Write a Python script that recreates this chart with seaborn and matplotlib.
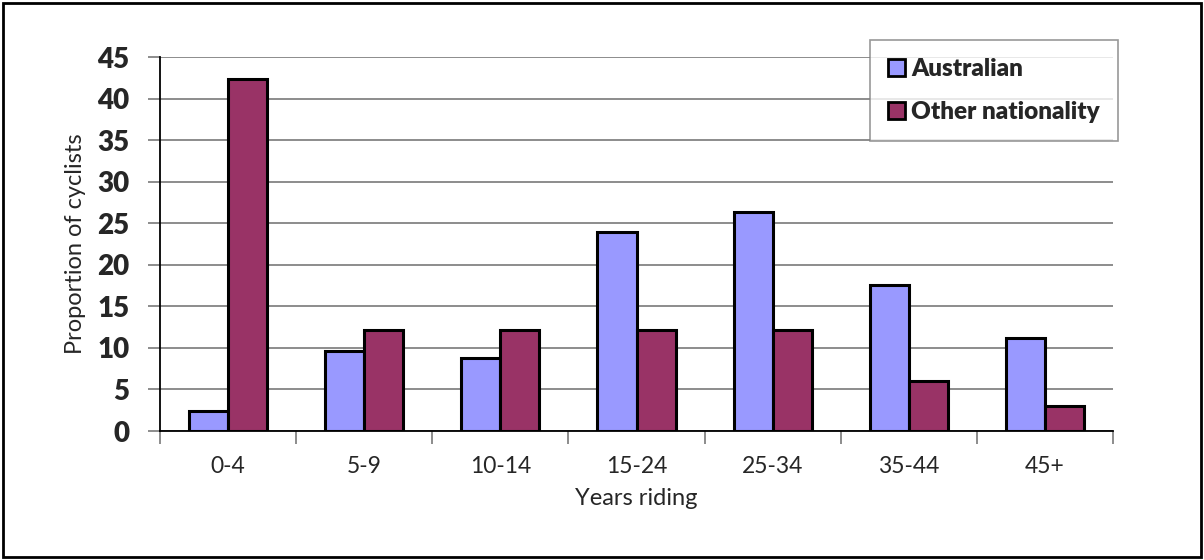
import matplotlib
matplotlib.use("Agg")
import matplotlib.pyplot as plt
import seaborn as sns
import pandas as pd
from matplotlib.patches import Rectangle

categories = ["0-4", "5-9", "10-14", "15-24", "25-34", "35-44", "45+"]
australian = [2.4, 9.6, 8.8, 24.0, 26.4, 17.6, 11.2]
other_nationality = [42.4, 12.1, 12.1, 12.1, 12.1, 6.0, 3.0]
series_names = ["Australian", "Other nationality"]
colors = ["#9999FF", "#993366"]

df = pd.DataFrame({
    "Years riding": categories * 2,
    "value": australian + other_nationality,
    "group": [series_names[0]] * len(categories) + [series_names[1]] * len(categories),
})

sns.set_style("white")
plt.rcParams["font.family"] = ["Lato", "DejaVu Sans"]

W, H = 1204, 560
fig = plt.figure(figsize=(W / 100, H / 100), dpi=100)
ax = fig.add_axes([160 / W, 1 - 431 / H, (1113 - 160) / W, (431 - 57) / H])

sns.barplot(data=df, x="Years riding", y="value", hue="group", order=categories,
            hue_order=series_names, palette=colors, width=0.575, ax=ax,
            edgecolor="black", linewidth=2.2, saturation=1, legend=False)

ax.set_ylim(0, 45)
ax.set_xlim(-0.5, len(categories) - 0.5)
ax.set_yticks(range(0, 46, 5))
ax.yaxis.grid(True, color="#6e6e6e", linewidth=1.1)
ax.set_axisbelow(True)
for s in ["top", "right"]:
    ax.spines[s].set_visible(False)
for s in ["left", "bottom"]:
    ax.spines[s].set_color("black")
    ax.spines[s].set_linewidth(1.3)

ax.tick_params(axis="y", which="major", length=9, width=1.1, color="#6e6e6e",
               labelsize=20, pad=13, left=True)
for lab in ax.get_yticklabels():
    lab.set_fontweight("heavy")
ax.set_xticks(range(len(categories)))
ax.set_xticklabels(categories)
ax.tick_params(axis="x", which="major", length=0, labelsize=16.5, pad=18)
ax.set_xticks([i - 0.5 for i in range(len(categories) + 1)], minor=True)
ax.tick_params(axis="x", which="minor", length=9, width=1.1, color="#6e6e6e", bottom=True)

ax.set_xlabel("Years riding", fontsize=17, labelpad=8)
ax.set_ylabel("Proportion of cyclists", fontsize=17, labelpad=8)

handles = [Rectangle((0, 0), 1, 1, facecolor=c, edgecolor="black", linewidth=2) for c in colors]
leg = fig.legend(handles, series_names, loc="upper left",
                 bbox_to_anchor=(870 / W, 1 - 40 / H), frameon=True, fancybox=False,
                 prop={"weight": "heavy", "size": 17.5}, handlelength=0.7, handleheight=0.7,
                 handletextpad=0.25, labelspacing=0.85, borderpad=0.75, borderaxespad=0)
leg.get_frame().set_edgecolor("#7f7f7f")
leg.get_frame().set_linewidth(1.2)

fig.patches.append(Rectangle((3 / W, 3 / H), (W - 6) / W, (H - 6) / H, transform=fig.transFigure,
                             fill=False, edgecolor="black", linewidth=2))

fig.savefig("out.png", dpi=100, facecolor="white")
